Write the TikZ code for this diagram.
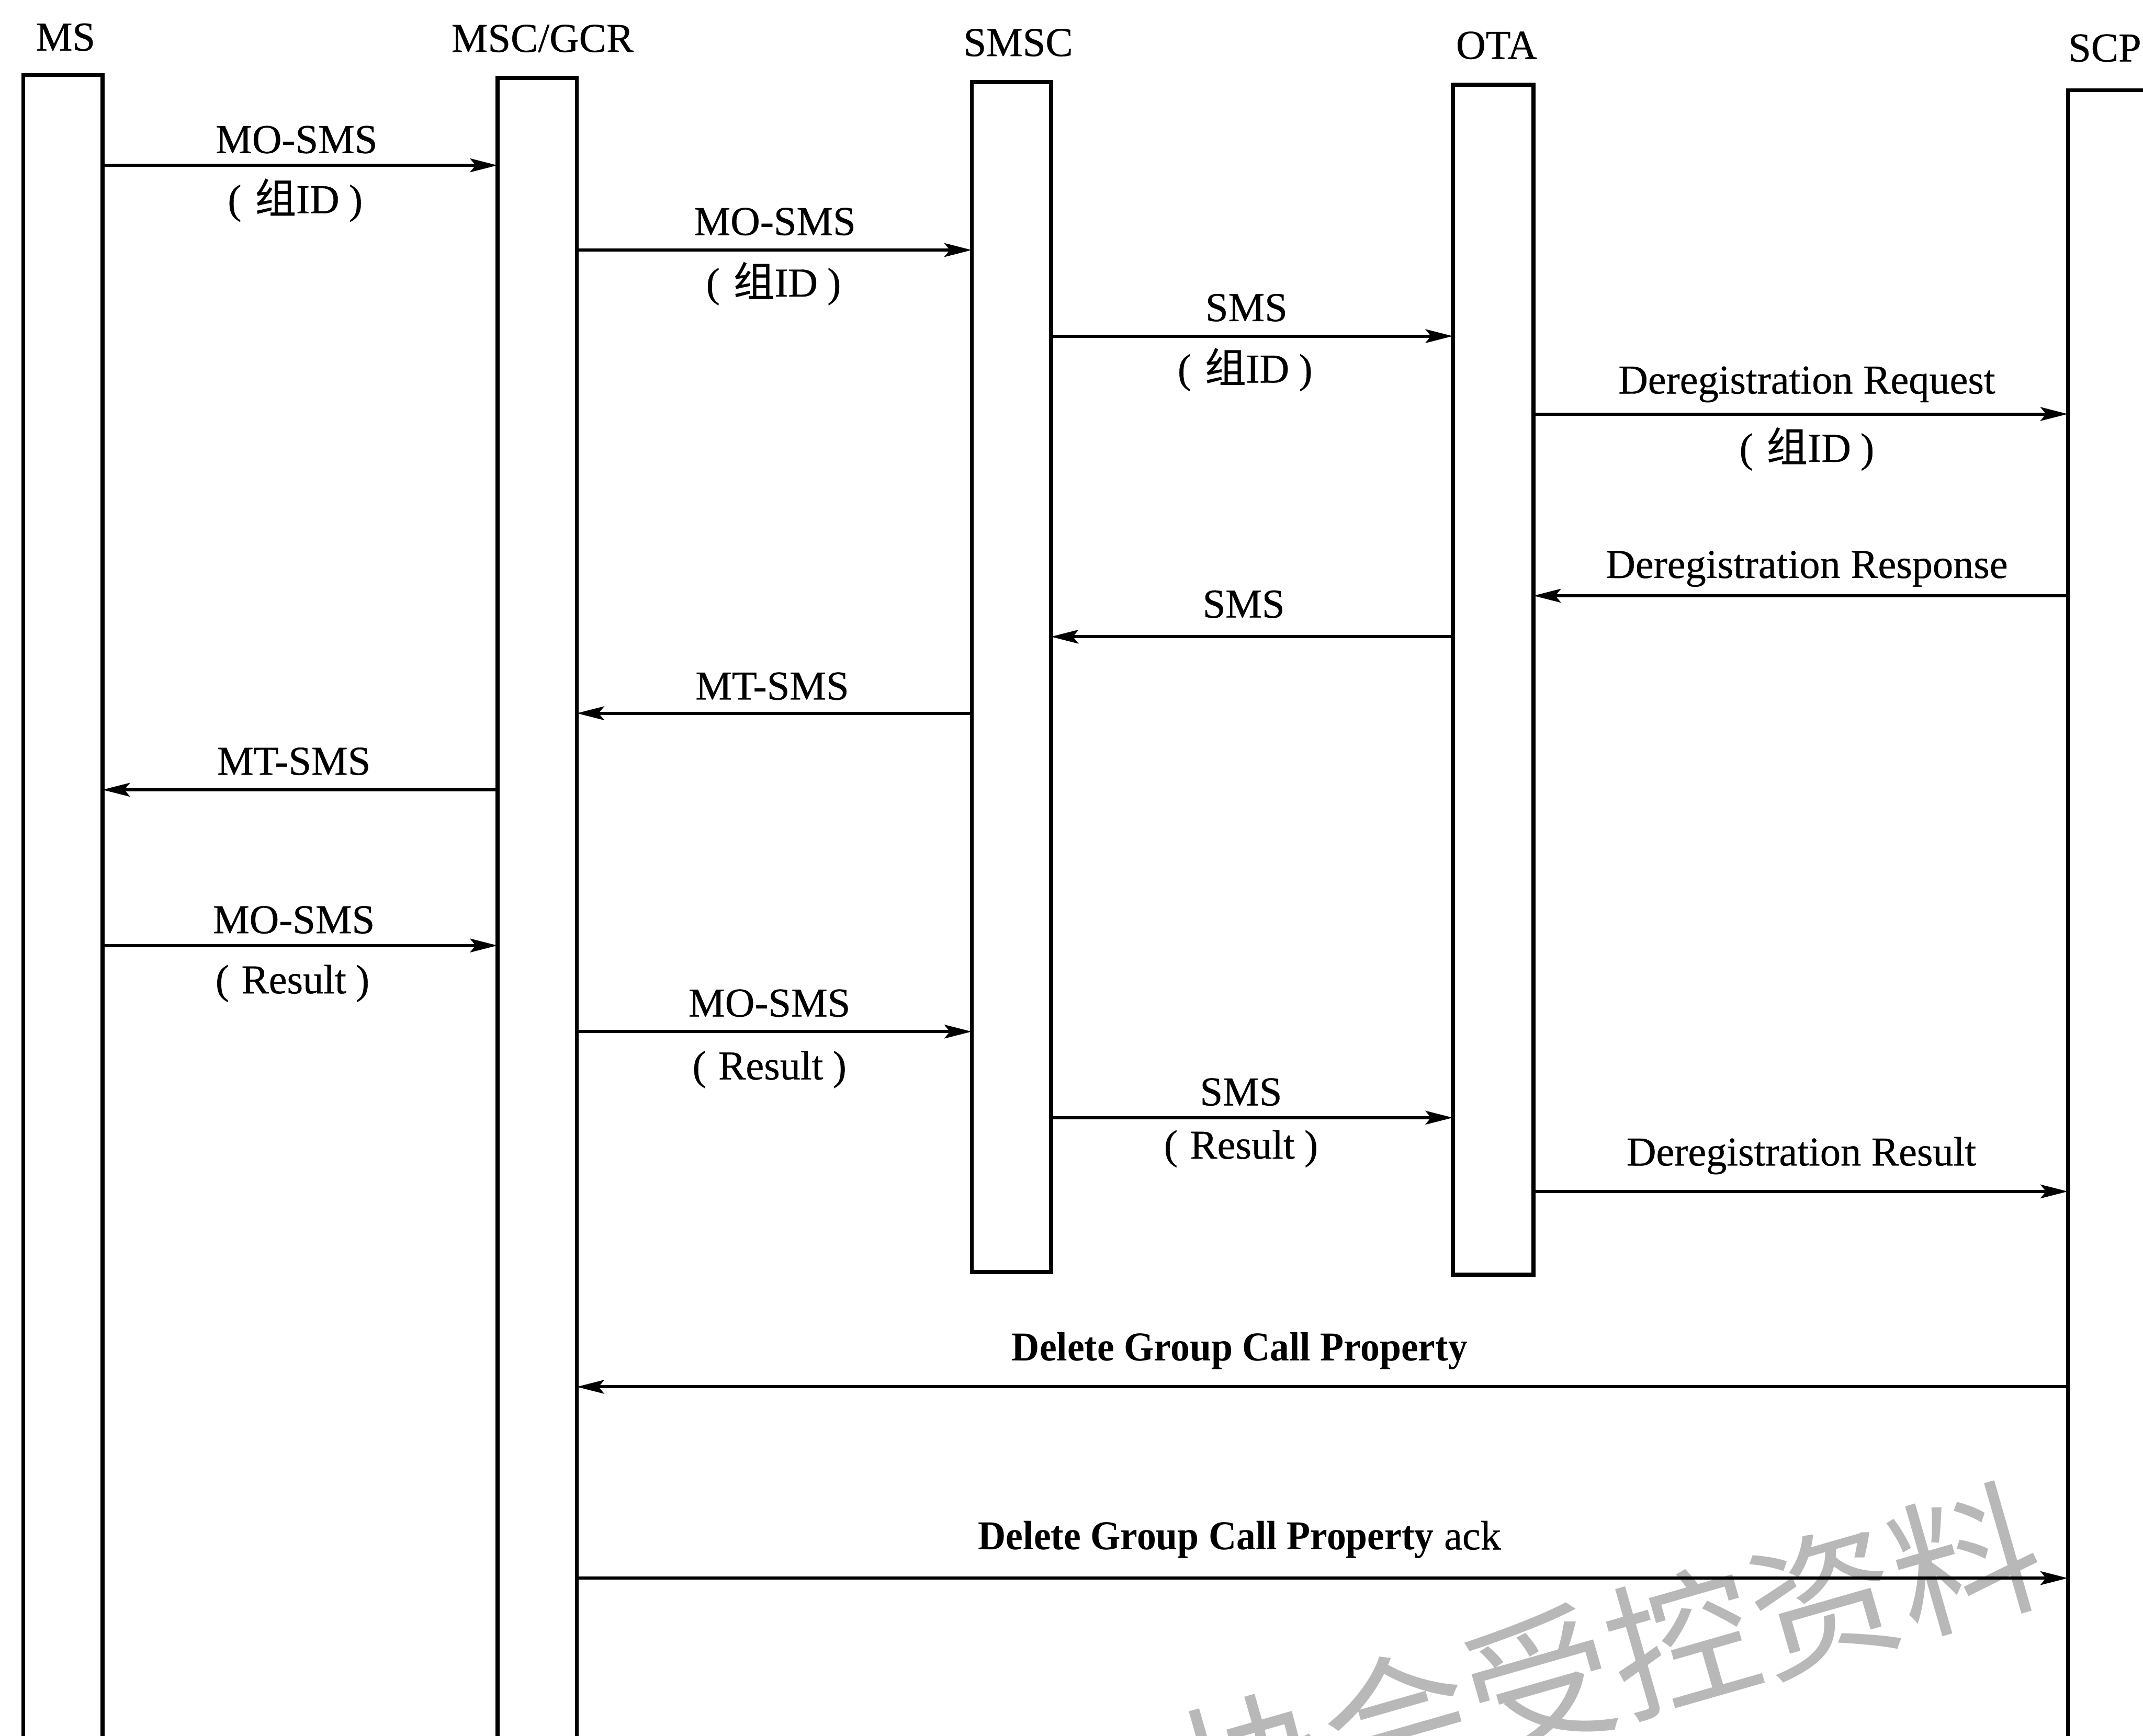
\documentclass[tikz,border=0pt]{standalone}
\usepackage{fontspec}
\setmainfont{Liberation Serif}
\newfontfamily\txt{Liberation Serif}[FakeBold=0.5]
\newfontfamily\cjk{Noto Sans CJK SC}[FakeBold=0.5]
\newfontfamily\wmfont{Noto Sans CJK SC}
\usetikzlibrary{arrows.meta}
\tikzset{
  bar/.style={draw, line width=2.9pt, minimum width=58pt, inner sep=0pt, outer sep=0pt},
  msg/.style={line width=2.3pt, -{Stealth[length=20pt,width=10pt,inset=4pt]}},
  lbl/.style={font=\fontsize{30}{36}\txt, inner sep=0pt, anchor=base},
  heavy/.style={font=\fontsize{30}{36}\selectfont\bfseries, inner sep=0pt, anchor=base},
  wmark/.style={font=\fontsize{108}{120}\wmfont, text={rgb,255:red,184;green,184;blue,184}, inner sep=0pt}
}
\newcommand{\grp}{(\hspace{10pt}{\cjk 组}ID\hspace{7pt})}
\newcommand{\res}{(\hspace{9pt}Result\hspace{7pt})}
\begin{document}
\begin{tikzpicture}[x=1pt,y=-1pt]
\useasboundingbox (0,0) rectangle (1568,1270.5);
\clip (0,0) rectangle (1568,1270.5);
\fill[white] (0,0) rectangle (1568,1270.5);

% watermark
\node[wmark, rotate=16, anchor=east] (wm) at (1490,1126) {全协会受控资料};

% lifelines
\node[bar, minimum height=1245pt] (ms) at (46,677.5) {};
\node[bar, minimum height=1243pt] (msc) at (393,678.5) {};
\node[bar, minimum height=871pt] (smsc) at (740,495.5) {};
\node[bar, minimum width=59pt, minimum height=871pt] (ota) at (1092.5,497.5) {};
\node[bar, minimum width=70pt, minimum height=1234pt] (scp) at (1548,683) {};

% headers
\node[lbl] (hms) at (48,37) {MS};
\node[lbl] (hmsc) at (397,38) {MSC/GCR};
\node[lbl] (hsmsc) at (745,41) {SMSC};
\node[lbl] (hota) at (1095,43) {OTA};
\node[lbl] (hscp) at (1540,45) {SCP};

% messages
\draw[msg] (ms.east |- 0,121) -- (msc.west |- 0,121);
\node[lbl] (l1a) at (217,112) {MO-SMS};
\node[lbl] (l1b) at (216,156) {\grp};

\draw[msg] (msc.east |- 0,183) -- (smsc.west |- 0,183);
\node[lbl] (l2a) at (567,172) {MO-SMS};
\node[lbl] (l2b) at (566,217) {\grp};

\draw[msg] (smsc.east |- 0,246) -- (ota.west |- 0,246);
\node[lbl] (l3a) at (912,235) {SMS};
\node[lbl] (l3b) at (911,280) {\grp};

\draw[msg] (ota.east |- 0,303) -- (scp.west |- 0,303);
\node[lbl] (l4a) at (1322,288) {Deregistration Request};
\node[lbl] (l4b) at (1322,338) {\grp};

\draw[msg] (scp.west |- 0,436) -- (ota.east |- 0,436);
\node[lbl] (l5) at (1322,423) {Deregistration Response};

\draw[msg] (ota.west |- 0,466) -- (smsc.east |- 0,466);
\node[lbl] (l6) at (910,452) {SMS};

\draw[msg] (smsc.west |- 0,522) -- (msc.east |- 0,522);
\node[lbl] (l7) at (565,512) {MT-SMS};

\draw[msg] (msc.west |- 0,578) -- (ms.east |- 0,578);
\node[lbl] (l8) at (215,567) {MT-SMS};

\draw[msg] (ms.east |- 0,692) -- (msc.west |- 0,692);
\node[lbl] (l9a) at (215,683) {MO-SMS};
\node[lbl] (l9b) at (214,727) {\res};

\draw[msg] (msc.east |- 0,755) -- (smsc.west |- 0,755);
\node[lbl] (l10a) at (563,744) {MO-SMS};
\node[lbl] (l10b) at (563,790) {\res};

\draw[msg] (smsc.east |- 0,818) -- (ota.west |- 0,818);
\node[lbl] (l11a) at (908,809) {SMS};
\node[lbl] (l11b) at (908,848) {\res};

\draw[msg] (ota.east |- 0,872) -- (scp.west |- 0,872);
\node[lbl] (l12) at (1318,853) {Deregistration Result};

\draw[msg] (scp.west |- 0,1015) -- (msc.east |- 0,1015);
\node[heavy, xscale=0.94] (l13) at (907,996) {Delete Group Call Property};

\draw[msg] (msc.east |- 0,1155) -- (scp.west |- 0,1155);
\node[lbl] (l14) at (907,1134) {\scalebox{0.94}[1]{\rmfamily\bfseries Delete Group Call Property} ack};
\end{tikzpicture}
\end{document}
